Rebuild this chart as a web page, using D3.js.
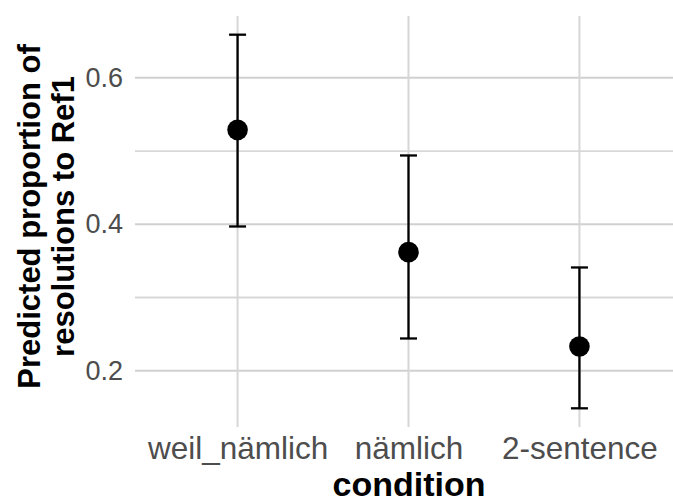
<!DOCTYPE html>
<html>
<head>
<meta charset="utf-8">
<script src="https://cdn.jsdelivr.net/npm/d3@7"></script>
<style>
  body { margin: 0; background: #fff; }
  text { font-family: "Liberation Sans", Arial, Helvetica, sans-serif; }
</style>
</head>
<body>
<div id="graph_container"></div>
<script>
var conditions = ['weil_nämlich', 'nämlich', '2-sentence'];
var estimate = [0.529, 0.362, 0.233];
var lower = [0.397, 0.244, 0.1486];
var upper = [0.659, 0.494, 0.341];
var major_ticks = [0.2, 0.4, 0.6];
var minor_ticks = [0.3, 0.5];

var w = 673;
var h = 504;
var left = 135;
var right = 682;
var top_ = 16;
var bottom = 427;
var radius = 10.3;
var cap = 8.5;

var data = conditions.map(function(c, i) {
  return {cond: c, est: estimate[i], lo: lower[i], hi: upper[i]};
});

var svg = d3.select('#graph_container')
            .append('svg')
            .attr('width', w)
            .attr('height', h);

var xScale = d3.scalePoint()
               .domain(conditions)
               .range([left, right])
               .padding(0.6);

// ggplot style 5% expansion of the data range
var lo = d3.min(lower), hi = d3.max(upper);
var ex = (hi - lo) * 0.05;
var yScale = d3.scaleLinear()
               .domain([lo - ex, hi + ex])
               .range([bottom, top_]);

var grid = svg.append('g');

grid.selectAll('.minor')
    .data(minor_ticks)
    .enter()
    .append('line')
    .attr('x1', left)
    .attr('x2', w)
    .attr('y1', function(d) { return yScale(d); })
    .attr('y2', function(d) { return yScale(d); })
    .attr('stroke', '#d8d8d8')
    .attr('stroke-width', 1.8);

grid.selectAll('.major')
    .data(major_ticks)
    .enter()
    .append('line')
    .attr('x1', left)
    .attr('x2', w)
    .attr('y1', function(d) { return yScale(d); })
    .attr('y2', function(d) { return yScale(d); })
    .attr('stroke', '#d0d0d0')
    .attr('stroke-width', 2);

grid.selectAll('.vert')
    .data(conditions)
    .enter()
    .append('line')
    .attr('x1', function(d) { return xScale(d); })
    .attr('x2', function(d) { return xScale(d); })
    .attr('y1', top_)
    .attr('y2', bottom)
    .attr('stroke', '#d6d6d6')
    .attr('stroke-width', 2);

var yAxis = d3.axisLeft(yScale)
              .tickValues(major_ticks)
              .tickFormat(d3.format('.1f'))
              .tickSize(0)
              .tickPadding(12);

svg.append('g')
   .attr('transform', 'translate(' + left + ',0)')
   .call(yAxis)
   .call(function(g) { g.select('.domain').remove(); })
   .selectAll('text')
   .attr('fill', '#4d4d4d')
   .style('font-size', '27px');

var xAxis = d3.axisBottom(xScale)
              .tickSize(0)
              .tickPadding(10);

svg.append('g')
   .attr('transform', 'translate(0,' + bottom + ')')
   .call(xAxis)
   .call(function(g) { g.select('.domain').remove(); })
   .selectAll('text')
   .attr('fill', '#4d4d4d')
   .style('font-size', '31.5px');

var bars = svg.append('g');

bars.selectAll('.err')
    .data(data)
    .enter()
    .append('line')
    .attr('x1', function(d) { return xScale(d.cond); })
    .attr('x2', function(d) { return xScale(d.cond); })
    .attr('y1', function(d) { return yScale(d.lo); })
    .attr('y2', function(d) { return yScale(d.hi); })
    .attr('stroke', '#000')
    .attr('stroke-width', 2.3);

['lo', 'hi'].forEach(function(k) {
  bars.selectAll('.cap_' + k)
      .data(data)
      .enter()
      .append('line')
      .attr('x1', function(d) { return xScale(d.cond) - cap; })
      .attr('x2', function(d) { return xScale(d.cond) + cap; })
      .attr('y1', function(d) { return yScale(d[k]); })
      .attr('y2', function(d) { return yScale(d[k]); })
      .attr('stroke', '#000')
      .attr('stroke-width', 2.3);
});

bars.selectAll('circle')
    .data(data)
    .enter()
    .append('circle')
    .attr('cx', function(d) { return xScale(d.cond); })
    .attr('cy', function(d) { return yScale(d.est); })
    .attr('r', radius)
    .attr('fill', '#000');

svg.append('text')
   .attr('x', 409)
   .attr('y', 496)
   .attr('text-anchor', 'middle')
   .style('font-size', '34px')
   .style('font-weight', 'bold')
   .attr('fill', '#000')
   .text('condition');

var ytitle = svg.append('text')
                .attr('transform', 'translate(40,' + ((top_ + bottom) / 2 - 5) + ') rotate(-90)')
                .attr('text-anchor', 'middle')
                .style('font-size', '31px')
                .style('font-weight', 'bold')
                .attr('fill', '#000');
ytitle.append('tspan')
      .attr('x', 0)
      .attr('dy', 0)
      .text('Predicted proportion of');
ytitle.append('tspan')
      .attr('x', 0)
      .attr('dy', 34)
      .text('resolutions to Ref1');
</script>
</body>
</html>
